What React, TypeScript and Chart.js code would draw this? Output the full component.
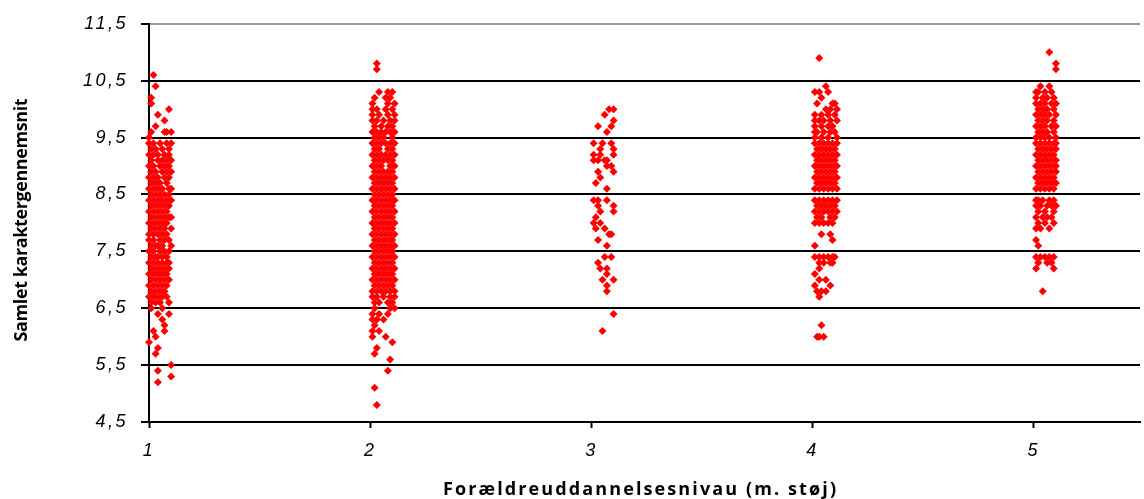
import { useEffect, useRef } from 'react';
import { Chart, registerables } from 'chart.js';

Chart.register(...registerables);

// Parental education levels on the x axis (with horizontal jitter)
const levels = [1, 2, 3, 4, 5];
const yTickValues = [4.5, 5.5, 6.5, 7.5, 8.5, 9.5, 10.5, 11.5];
const xTitle = 'Forældreuddannelsesnivau (m. støj)';
const yTitle = 'Samlet karaktergennemsnit';

// Each row: [grade average, jitter offsets in hundredths of a level]
type Row = [number, number[]];

const level1Rows: Row[] = [
  [10.6, [2]], [10.4, [3]], [10.2, [1]], [10.1, [1]], [10.0, [9]], [9.9, [4]],
  [9.8, [7]], [9.7, [3]], [9.6, [1, 7, 8, 10]], [9.5, [0]],
  [9.4, [0, 2, 5, 8, 10]], [9.3, [1, 3, 6, 9]], [9.2, [0, 2, 4, 7, 9]],
  [9.1, [1, 4, 6, 8, 10]], [9.0, [0, 2, 5, 7, 9]], [8.9, [1, 3, 6, 8, 10]],
  [8.8, [0, 2, 4, 7, 9]], [8.7, [1, 3, 5, 8]], [8.6, [0, 2, 4, 6, 9, 10]],
  [8.5, [1, 3, 5, 7, 9]], [8.4, [0, 2, 4, 6, 8, 10]], [8.3, [1, 3, 5, 7, 9]],
  [8.2, [0, 2, 4, 6, 8]], [8.1, [1, 3, 5, 7, 9, 10]], [8.0, [0, 2, 4, 6, 8]],
  [7.9, [1, 3, 5, 7, 10]], [7.8, [0, 2, 4, 6, 8]], [7.7, [0, 2, 5, 7, 9]],
  [7.6, [1, 3, 4, 6, 10]], [7.5, [0, 2, 5, 7, 9]], [7.4, [1, 3, 4, 6, 8]],
  [7.3, [0, 2, 4, 6, 8, 9]], [7.2, [1, 3, 5, 7, 9]], [7.1, [0, 2, 4, 6, 8]],
  [7.0, [1, 3, 5, 7, 9]], [6.9, [0, 2, 4, 6, 8]], [6.8, [1, 3, 5, 7]],
  [6.7, [0, 2, 4, 6, 8]], [6.6, [1, 3, 5, 9]],
  [6.5, [1, 6]], [6.4, [4, 9]], [6.3, [6]], [6.2, [7]], [6.1, [2, 7]],
  [6.0, [3]], [5.9, [0]], [5.8, [4]], [5.7, [3]], [5.5, [10]], [5.4, [4]],
  [5.3, [10]], [5.2, [4]],
];

const level2Rows: Row[] = [
  [10.8, [3]], [10.7, [3]],
  [10.3, [4, 8, 10]], [10.2, [2, 7, 9]], [10.1, [1, 8, 11]], [10.0, [1, 3, 7, 10]],
  [9.9, [1, 4, 8, 11]], [9.8, [1, 3, 6, 9, 11]], [9.7, [2, 5, 8, 10]],
  [9.6, [1, 3, 5, 7, 9, 11]], [9.5, [2, 4, 6, 10]],
  [9.4, [1, 3, 5, 7, 9, 11]], [9.3, [2, 4, 8, 10]], [9.2, [1, 3, 5, 7, 9, 11]],
  [9.1, [2, 4, 6, 8, 10]], [9.0, [1, 3, 5, 9, 11]], [8.9, [2, 4, 6, 8, 10]],
  [8.8, [1, 3, 5, 7, 9, 11]], [8.7, [2, 4, 6, 8, 10]], [8.6, [1, 3, 5, 7, 9, 11]],
  [8.5, [2, 4, 6, 8, 10]], [8.4, [1, 3, 5, 7, 9, 11]], [8.3, [2, 4, 6, 8, 10]],
  [8.2, [1, 3, 5, 7, 9, 11]], [8.1, [2, 4, 6, 8, 10]], [8.0, [1, 3, 5, 7, 9, 11]],
  [7.9, [2, 4, 6, 8, 10]], [7.8, [1, 3, 5, 7, 9, 11]], [7.7, [2, 4, 6, 8, 10]],
  [7.6, [1, 3, 5, 7, 9, 11]], [7.5, [2, 4, 6, 8, 10]], [7.4, [1, 3, 5, 7, 9, 11]],
  [7.3, [2, 4, 6, 8, 10]], [7.2, [1, 3, 5, 7, 9, 11]], [7.1, [2, 4, 6, 8, 10]],
  [7.0, [1, 3, 5, 7, 9, 11]], [6.9, [2, 4, 6, 8, 10]], [6.8, [1, 3, 5, 7, 9, 11]],
  [6.7, [1, 3, 6, 9, 11]], [6.6, [2, 4, 8, 10]], [6.5, [2, 9, 11]],
  [6.4, [1, 4, 8]], [6.3, [1, 3, 6]], [6.2, [2]], [6.1, [1, 4]], [6.0, [1, 7]],
  [5.9, [10]], [5.8, [3]], [5.7, [2]], [5.6, [9]], [5.4, [8]], [5.1, [2]], [4.8, [3]],
];

const level3Rows: Row[] = [
  [10.0, [8, 10]], [9.9, [6]], [9.8, [10]], [9.7, [3, 9]], [9.6, [7]],
  [9.4, [1, 5, 9]], [9.3, [4, 10]], [9.2, [1, 4, 10]], [9.1, [1, 3, 6, 7]],
  [9.0, [7, 9]], [8.9, [3, 10]], [8.8, [4]], [8.7, [2]], [8.6, [7]],
  [8.4, [1, 3, 7]], [8.3, [3, 10]], [8.2, [4, 10]], [8.1, [2]], [8.0, [1, 4]],
  [7.9, [2, 6]], [7.8, [8, 9]], [7.7, [3]], [7.6, [7]],
  [7.4, [6, 9]], [7.3, [3]], [7.2, [4, 7]], [7.1, [7]], [7.0, [5, 10]],
  [6.9, [7]], [6.8, [7]], [6.4, [10]], [6.1, [5]],
];

const level4Rows: Row[] = [
  [10.9, [3]], [10.4, [6]], [10.3, [1, 3, 7]], [10.2, [4]], [10.1, [2, 9, 10]],
  [10.0, [6, 8, 11]], [9.9, [1, 4, 7, 10]], [9.8, [1, 3, 5, 8, 11]],
  [9.7, [1, 4, 7, 9]], [9.6, [1, 2, 5, 8, 10]], [9.5, [1, 4, 7, 11]],
  [9.4, [1, 3, 5, 7, 9, 11]], [9.3, [2, 4, 6, 8, 10]], [9.2, [1, 3, 5, 7, 9, 11]],
  [9.1, [2, 4, 6, 8, 10]], [9.0, [1, 3, 5, 7, 9, 11]], [8.9, [2, 4, 6, 8, 10]],
  [8.8, [1, 3, 5, 7, 9, 11]], [8.7, [2, 4, 6, 8, 10]], [8.6, [1, 3, 5, 7, 9, 11]],
  [8.4, [1, 3, 5, 7, 9, 11]], [8.3, [2, 4, 6, 8, 10]], [8.2, [1, 3, 5, 7, 9, 11]],
  [8.1, [2, 4, 8, 10]], [8.0, [1, 3, 5, 7, 9]], [7.8, [4, 8]], [7.7, [9]], [7.6, [1]],
  [7.4, [1, 3, 5, 7, 9, 10]], [7.3, [3, 5, 8, 9]], [7.2, [3]], [7.1, [1]],
  [7.0, [3, 6]], [6.9, [1, 8]], [6.8, [2, 4, 6]], [6.7, [3]],
  [6.2, [4]], [6.0, [2, 3, 5]],
];

const level5Rows: Row[] = [
  [11.0, [7]], [10.8, [10]], [10.7, [10]],
  [10.4, [3, 7]], [10.3, [1, 2, 5, 8]], [10.2, [1, 4, 6, 9]],
  [10.1, [1, 3, 5, 8, 10]], [10.0, [2, 4, 6, 9]], [9.9, [1, 3, 5, 7, 10]],
  [9.8, [2, 4, 6, 9]], [9.7, [1, 3, 5, 8, 10]], [9.6, [2, 4, 6, 9]],
  [9.5, [1, 3, 5, 7, 10]],
  [9.4, [1, 3, 5, 7, 9, 10]], [9.3, [2, 4, 6, 8, 10]], [9.2, [1, 3, 5, 7, 9]],
  [9.1, [2, 4, 6, 8, 10]], [9.0, [1, 3, 5, 7, 9, 10]], [8.9, [2, 4, 6, 8, 10]],
  [8.8, [1, 3, 5, 7, 9]], [8.7, [2, 4, 6, 8, 10]], [8.6, [1, 3, 5, 7, 9]],
  [8.4, [1, 2, 4, 7, 9]], [8.3, [1, 3, 6, 8, 10]], [8.2, [2, 5, 9]],
  [8.1, [1, 4, 6, 8]], [8.0, [2, 5, 9]], [7.9, [1, 3, 7]], [7.7, [1]], [7.6, [2]],
  [7.4, [1, 3, 5, 7, 9]], [7.3, [2, 6, 8]], [7.2, [1, 9]], [6.8, [4]],
];

const levelRows = [level1Rows, level2Rows, level3Rows, level4Rows, level5Rows];

const points = levelRows.flatMap((rows, i) =>
  rows.flatMap(([grade, offsets]) =>
    offsets.map((o) => ({ x: levels[i] + o / 100, y: grade }))
  )
);

const tickFont = { family: '"Liberation Sans", Arial, sans-serif', size: 18, style: 'italic' as const };

// Draws a string stretched with letter spacing so it spans the given width
function drawSpread(ctx: CanvasRenderingContext2D, text: string, width: number) {
  (ctx as any).letterSpacing = '0px';
  const natural = ctx.measureText(text).width;
  const gap = (width - natural) / (Array.from(text).length - 1);
  (ctx as any).letterSpacing = `${gap}px`;
  ctx.textAlign = 'left';
  ctx.fillText(text, -width / 2, 0);
}

const axisText = {
  id: 'axisText',
  beforeDraw(chart: Chart) {
    (chart.ctx as any).letterSpacing = '2.5px';
  },
  afterDraw(chart: Chart) {
    const ctx = chart.ctx;
    const area = chart.chartArea;
    ctx.save();
    ctx.fillStyle = '#000';
    ctx.textBaseline = 'alphabetic';

    // x axis title
    ctx.save();
    ctx.font = 'bold 18px "Open Sans", sans-serif';
    ctx.translate((area.left + area.right) / 2 - 5, 495);
    drawSpread(ctx, xTitle, 393);
    ctx.restore();

    // y axis title
    ctx.save();
    ctx.font = 'bold 18px "Open Sans", sans-serif';
    ctx.translate(27, (area.top + area.bottom) / 2 - 3);
    ctx.rotate(-Math.PI / 2);
    drawSpread(ctx, yTitle, 243);
    ctx.restore();

    ctx.restore();
    (ctx as any).letterSpacing = '0px';
  },
};

export default function App() {
  const canvasRef = useRef<HTMLCanvasElement | null>(null);

  useEffect(() => {
    document.body.style.margin = '0';
    const canvas = canvasRef.current;
    if (!canvas) return;
    const chart = new Chart(canvas, {
      type: 'scatter',
      data: {
        datasets: [
          {
            data: points,
            pointStyle: 'rectRot',
            pointRadius: 4,
            pointHoverRadius: 4,
            backgroundColor: '#ff0000',
            borderColor: '#ff0000',
            borderWidth: 0,
            clip: false,
          },
        ],
      },
      options: {
        animation: false,
        responsive: false,
        devicePixelRatio: 1,
        layout: { padding: { top: 21, left: 0, right: 0, bottom: 0 } },
        plugins: {
          legend: { display: false },
          tooltip: { enabled: false },
        },
        scales: {
          x: {
            type: 'linear',
            min: 1,
            max: 5.48,
            afterBuildTicks: (scale: any) => {
              scale.ticks = levels.map((v) => ({ value: v }));
            },
            afterFit: (scale: any) => {
              scale.height = 77;
            },
            ticks: {
              color: '#000',
              font: tickFont,
              padding: 12,
              maxRotation: 0,
              autoSkip: false,
              callback: (v: any) => String(v),
            },
            grid: {
              drawOnChartArea: false,
              drawTicks: true,
              tickLength: 6,
              tickColor: '#000',
              tickWidth: 2,
            },
            border: { display: true, color: '#000', width: 2 },
          },
          y: {
            type: 'linear',
            min: 4.5,
            max: 11.5,
            afterBuildTicks: (scale: any) => {
              scale.ticks = yTickValues.map((v) => ({ value: v }));
            },
            afterFit: (scale: any) => {
              scale.width = 149;
            },
            ticks: {
              color: '#000',
              font: tickFont,
              padding: 13,
              autoSkip: false,
              callback: (v: any) => Number(v).toFixed(1).replace('.', ','),
            },
            grid: {
              color: (c: any) => (c.tick && c.tick.value === 11.5 ? '#999999' : '#000000'),
              lineWidth: 2,
              drawTicks: true,
              tickLength: 8,
              tickColor: '#000',
              tickWidth: 2,
            },
            border: { display: true, color: '#000', width: 2 },
          },
        },
      },
      plugins: [axisText],
    });
    return () => chart.destroy();
  }, []);

  return (
    <div style={{ position: 'fixed', left: 0, top: 0, width: 1144, height: 499, background: '#fff' }}>
      <canvas ref={canvasRef} width={1144} height={499} style={{ display: 'block' }} />
    </div>
  );
}
